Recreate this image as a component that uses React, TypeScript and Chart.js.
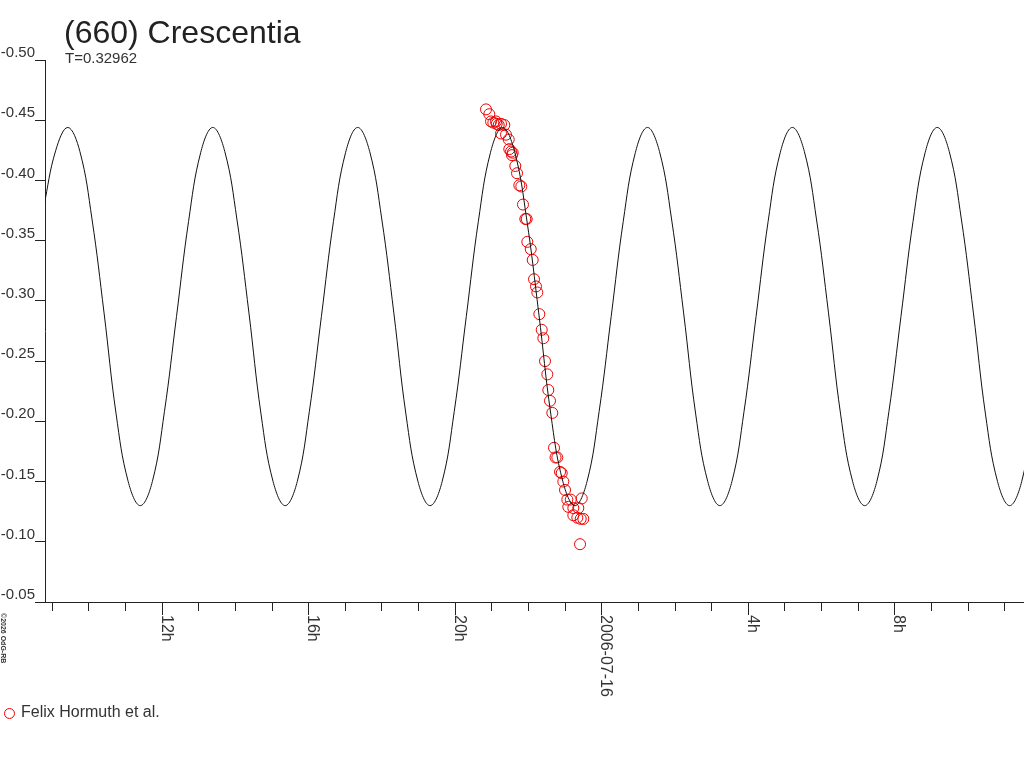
import React, { useEffect, useRef } from "react";
import { Chart, registerables } from "chart.js";

Chart.register(...registerables);

const FONT = '"Liberation Sans", Arial, sans-serif';

const title = "(660) Crescentia";
const period = "0.32962";
const seriesName = "Felix Hormuth et al.";
const copyright = "\u00a92026 OdG-RB";

// x axis: hours since 2006-07-15 00:00
const xMin = 8.814;
const xMax = 35.54;
const xTickHours = [12, 16, 20, 24, 28, 32];
const xTickLabels = ["12h", "16h", "20h", "2006-07-16", "4h", "8h"];

// y axis (magnitude, reversed)
const yTicks = [-0.5, -0.45, -0.4, -0.35, -0.3, -0.25, -0.2, -0.15, -0.1, -0.05];

// fitted light curve, sampled every 0.32962 h
const curveStart = 8.778;
const curveStep = 0.32962;
const curveMags = [
  -0.378, -0.425,
  -0.444, -0.424, -0.368, -0.29, -0.206, -0.15, -0.13, -0.15, -0.208, -0.287, -0.366, -0.423,
  -0.444, -0.424, -0.368, -0.29, -0.206, -0.15, -0.13, -0.15, -0.208, -0.287, -0.366, -0.423,
  -0.444, -0.424, -0.368, -0.29, -0.206, -0.15, -0.13, -0.15, -0.208, -0.287, -0.366, -0.423,
  -0.444, -0.424, -0.368, -0.29, -0.206, -0.15, -0.13, -0.15, -0.208, -0.287, -0.366, -0.423,
  -0.444, -0.424, -0.368, -0.29, -0.206, -0.15, -0.13, -0.15, -0.208, -0.287, -0.366, -0.423,
  -0.444, -0.424, -0.368, -0.29, -0.206, -0.15, -0.13, -0.15, -0.208, -0.287, -0.366, -0.423,
  -0.444, -0.424, -0.368, -0.29, -0.206, -0.15, -0.13, -0.15, -0.208,
];

// observations (hours since 2006-07-15 00:00, magnitude)
const obsHours = [
  20.853, 20.943, 20.99, 21.053, 21.126, 21.145, 21.2, 21.263, 21.353, 21.263,
  21.399, 21.473, 21.489, 21.536, 21.582, 21.563, 21.653, 21.7, 21.762, 21.817,
  21.863, 21.926, 21.964, 21.981, 22.074, 22.128, 22.164, 22.218, 22.254, 22.309,
  22.374, 22.418, 22.464, 22.527, 22.554, 22.6, 22.663, 22.71, 22.8, 22.751,
  22.874, 22.92, 22.964, 23.01, 23.073, 23.166, 23.1, 23.237, 23.373, 23.466,
  23.237, 23.346, 23.51, 23.439, 23.42,
];
const obsMags = [
  -0.459, -0.455, -0.449, -0.448, -0.449, -0.447, -0.446, -0.447, -0.446, -0.439,
  -0.438, -0.434, -0.426, -0.424, -0.423, -0.421, -0.412, -0.406, -0.396, -0.395,
  -0.38, -0.368, -0.368, -0.349, -0.343, -0.334, -0.318, -0.312, -0.307, -0.289,
  -0.276, -0.269, -0.25, -0.239, -0.226, -0.217, -0.207, -0.178, -0.17, -0.17,
  -0.158, -0.157, -0.15, -0.143, -0.135, -0.135, -0.129, -0.128, -0.128, -0.136,
  -0.122, -0.12, -0.119, -0.119, -0.098,
];

const decorPlugin = {
  id: "decor",
  afterDraw(chart: any) {
    const ctx = chart.ctx as CanvasRenderingContext2D;
    const xs = chart.scales.x;
    const area = chart.chartArea;
    ctx.save();

    // hour ticks below the x axis
    ctx.strokeStyle = "#222";
    ctx.lineWidth = 1;
    ctx.beginPath();
    for (let h = Math.ceil(xMin); h <= Math.floor(xMax); h++) {
      const px = Math.round(xs.getPixelForValue(h)) + 0.5;
      const len = xTickHours.includes(h) ? 13 : 9;
      ctx.moveTo(px, area.bottom);
      ctx.lineTo(px, area.bottom + len);
    }
    ctx.stroke();

    ctx.fillStyle = "#333";
    ctx.textAlign = "left";
    ctx.textBaseline = "alphabetic";
    ctx.font = `16px ${FONT}`;
    xTickHours.forEach((h, i) => {
      ctx.save();
      ctx.translate(Math.round(xs.getPixelForValue(h)), area.bottom + 13);
      ctx.rotate(Math.PI / 2);
      ctx.fillText(xTickLabels[i], 0, 0);
      ctx.restore();
    });

    // title
    ctx.fillStyle = "#222";
    ctx.font = `32px ${FONT}`;
    ctx.fillText(title, 64, 43);
    ctx.fillStyle = "#333";
    ctx.font = `15px ${FONT}`;
    ctx.fillText(`T=${period}`, 65, 63);

    // legend
    ctx.strokeStyle = "#e00";
    ctx.beginPath();
    ctx.arc(9.5, 713.5, 5, 0, Math.PI * 2);
    ctx.stroke();
    ctx.fillStyle = "#333";
    ctx.font = `16px ${FONT}`;
    ctx.textBaseline = "middle";
    ctx.fillText(seriesName, 21, 713);

    // copyright
    ctx.save();
    ctx.translate(1, 613);
    ctx.rotate(Math.PI / 2);
    ctx.font = `bold 7px ${FONT}`;
    ctx.textBaseline = "alphabetic";
    ctx.fillStyle = "#333";
    ctx.fillText(copyright, 0, 0);
    ctx.restore();

    ctx.restore();
  },
};

const App: React.FC = () => {
  const canvasRef = useRef<HTMLCanvasElement>(null);

  useEffect(() => {
    document.body.style.margin = "0";
    if (!canvasRef.current) return;
    const chart = new Chart(canvasRef.current, {
      type: "scatter",
      data: {
        datasets: [
          {
            label: "fit",
            data: curveMags.map((m, i) => ({ x: curveStart + i * curveStep, y: m })),
            showLine: true,
            borderColor: "#111",
            borderWidth: 1,
            pointRadius: 0,
            tension: 0.4,
          },
          {
            label: seriesName,
            data: obsHours.map((h, i) => ({ x: h, y: obsMags[i] })),
            borderColor: "#e00",
            backgroundColor: "rgba(0,0,0,0)",
            borderWidth: 1,
            pointRadius: 5.5,
          },
        ],
      },
      options: {
        animation: false,
        responsive: false,
        devicePixelRatio: 1,
        layout: {
          autoPadding: false,
          padding: { top: 60, bottom: 166, left: 0, right: 0 },
        },
        plugins: {
          legend: { display: false },
          tooltip: { enabled: false },
        },
        scales: {
          x: {
            type: "linear",
            min: xMin,
            max: xMax,
            grid: { display: false, drawTicks: false },
            ticks: { display: false },
            border: { display: true, color: "#222", width: 1 },
          },
          y: {
            type: "linear",
            min: -0.5,
            max: -0.05,
            reverse: true,
            afterBuildTicks: (scale: any) => {
              scale.ticks = yTicks.map((v) => ({ value: v }));
            },
            afterFit: (scale: any) => {
              scale.width = 45;
            },
            grid: {
              drawOnChartArea: false,
              drawTicks: true,
              tickLength: 10,
              color: "#222",
            },
            border: { display: true, color: "#222", width: 1 },
            ticks: {
              padding: 0,
              labelOffset: -7,
              color: "#333",
              font: { family: FONT, size: 15 },
              callback: (v: any) => Number(v).toFixed(2),
            },
          },
        },
      },
      plugins: [decorPlugin],
    });
    return () => chart.destroy();
  }, []);

  return (
    <canvas
      ref={canvasRef}
      width={1024}
      height={768}
      style={{ display: "block", width: 1024, height: 768 }}
    />
  );
};

export default App;
